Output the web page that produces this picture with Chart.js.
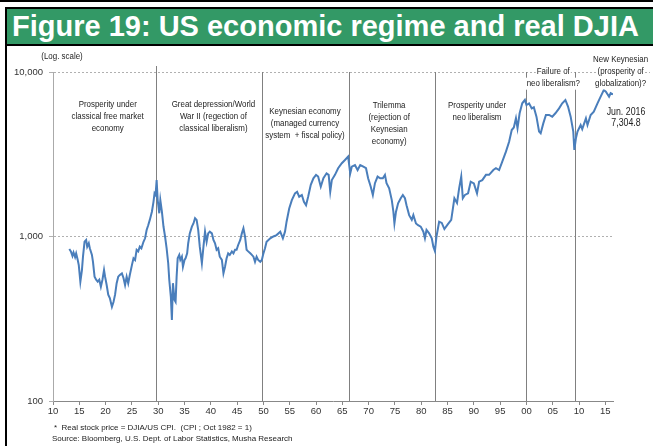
<!DOCTYPE html>
<html>
<head>
<meta charset="utf-8">
<script src="https://cdn.jsdelivr.net/npm/chart.js@4.4.1/dist/chart.umd.min.js"></script>
<style>
  html, body { margin: 0; padding: 0; background: #fff; }
  #page { position: relative; width: 653px; height: 446px; overflow: hidden; }
  #topRule { position: absolute; left: 0; top: 0; width: 653px; height: 2px; background: #000; }
  #frame { position: absolute; left: 5px; top: 7px; width: 646px; height: 439px; border-left: 2px solid #000; }
  #title {
    position: absolute; left: 5px; top: 7px; width: 642px; height: 35px;
    background: #339966; border: 2px solid #000; color: #fff;
    font: bold 29px "Liberation Sans", Arial, sans-serif; line-height: 35px;
    padding-left: 5px; white-space: nowrap;
  }
  #chart { position: absolute; left: 0; top: 0; }
</style>
</head>
<body>
<div id="page">
  <div id="topRule"></div>
  <div id="frame"></div>
  <div id="title">Figure 19: US economic regime and real DJIA</div>
  <canvas id="chart" width="653" height="446"></canvas>
</div>
<script>
// Real DJIA (DJIA / US CPI, Oct 1982 = 1), log scale
const years = [
  1913.1, 1913.4, 1913.7, 1913.9, 1914.2, 1914.4, 1914.7, 1914.9, 1915.2, 1915.5, 1915.7, 1916.0, 1916.3, 1916.5, 1916.8,
  1917.0, 1917.4, 1917.6, 1917.9, 1918.2, 1918.5, 1918.8, 1919.1, 1919.4, 1919.7, 1919.9, 1920.2, 1920.5, 1920.8, 1921.2,
  1921.5, 1921.8, 1922.1, 1922.4, 1922.7, 1923.1, 1923.4, 1923.7, 1924.0, 1924.3, 1924.6, 1925.0, 1925.3, 1925.6, 1925.9,
  1926.2, 1926.5, 1926.8, 1927.2, 1927.5, 1927.8, 1928.1, 1928.4, 1928.8, 1929.1, 1929.3, 1929.5, 1929.7, 1929.9, 1930.2,
  1930.4, 1930.7, 1931.0, 1931.3, 1931.6, 1931.9, 1932.1, 1932.4, 1932.6, 1932.8, 1933.1, 1933.3, 1933.5, 1933.7, 1934.0,
  1934.2, 1934.5, 1934.7, 1935.0, 1935.2, 1935.5, 1935.7, 1936.0, 1936.4, 1936.7, 1937.0, 1937.3, 1937.6, 1937.9, 1938.3,
  1938.6, 1938.9, 1939.2, 1939.5, 1939.8, 1940.2, 1940.5, 1940.8, 1941.1, 1941.4, 1941.7, 1942.1, 1942.4, 1942.7, 1943.0,
  1943.3, 1943.6, 1944.0, 1944.3, 1944.6, 1944.9, 1945.2, 1945.6, 1945.9, 1946.2, 1946.5, 1946.8, 1947.1, 1947.5, 1947.8,
  1948.1, 1948.4, 1948.7, 1949.0, 1949.4, 1949.7, 1950.0, 1950.3, 1950.6, 1951.3, 1951.9, 1952.5, 1953.2, 1953.7, 1954.1,
  1954.4, 1954.9, 1955.4, 1956.0, 1956.4, 1956.8, 1957.3, 1957.7, 1958.1, 1958.5, 1959.0, 1959.5, 1960.0, 1960.4, 1960.9,
  1961.4, 1962.0, 1962.4, 1962.7, 1963.0, 1963.6, 1964.2, 1964.9, 1965.5, 1966.1, 1966.5, 1966.8, 1967.4, 1967.9, 1968.4,
  1969.0, 1969.5, 1969.9, 1970.4, 1970.8, 1971.2, 1971.7, 1972.2, 1972.7, 1973.1, 1973.4, 1973.9, 1974.4, 1974.7, 1974.9,
  1975.2, 1975.6, 1976.1, 1976.5, 1976.9, 1977.2, 1977.7, 1978.2, 1978.5, 1979.0, 1979.4, 1979.9, 1980.4, 1980.7, 1981.0,
  1981.5, 1982.0, 1982.3, 1982.6, 1982.9, 1983.4, 1983.9, 1984.4, 1985.0, 1985.7, 1986.3, 1986.8, 1987.2, 1987.6, 1987.9,
  1988.3, 1988.9, 1989.4, 1990.0, 1990.6, 1991.0, 1991.6, 1992.3, 1992.9, 1993.7, 1994.2, 1994.8, 1995.4, 1996.1, 1996.7,
  1997.2, 1997.6, 1998.0, 1998.3, 1998.7, 1999.2, 1999.7, 2000.0, 2000.5, 2001.0, 2001.4, 2001.9, 2002.4, 2002.7, 2003.2,
  2003.7, 2004.3, 2004.9, 2005.5, 2006.2, 2006.8, 2007.4, 2007.9, 2008.4, 2008.9, 2009.1, 2009.4, 2009.7, 2010.3, 2010.6,
  2011.3, 2011.6, 2012.2, 2012.8, 2013.5, 2014.1, 2014.7, 2015.1, 2015.7, 2016.0, 2016.45
];
const realDjia = [
  839, 812, 762, 800, 750, 790, 720, 670, 531, 625, 754, 929, 953, 867, 910,
  848, 773, 702, 570, 546, 531, 546, 495, 546, 625, 570, 507, 443, 422, 374,
  400, 443, 520, 570, 583, 597, 560, 507, 570, 520, 583, 670, 737, 720, 830,
  812, 867, 848, 929, 975, 1096, 1171, 1262, 1415, 1624, 1830, 1790, 2205, 1665, 1384,
  1665, 1415, 1150, 1000, 848, 688, 546, 430, 311, 520, 411, 400, 570, 737, 773,
  720, 754, 655, 720, 737, 790, 910, 1045, 1148, 1200, 1291, 1262, 1096, 867, 688,
  867, 1070, 929, 1045, 1070, 1045, 953, 910, 830, 848, 754, 720, 597, 655, 737,
  790, 773, 812, 790, 830, 830, 888, 953, 1045, 1122, 1000, 830, 812, 790, 773,
  754, 702, 754, 720, 702, 720, 790, 848, 929, 975, 1000, 1020, 1070, 975, 1070,
  1230, 1480, 1665, 1830, 1871, 1746, 1786, 1624, 1550, 1746, 2060, 2259, 2370, 2313, 2008,
  2259, 2421, 2370, 1871, 2205, 2370, 2600, 2790, 2920, 3062, 2421, 2657, 2720, 2536, 2720,
  2657, 2600, 2259, 2008, 1786, 2110, 2313, 2259, 2259, 2370, 2110, 1963, 1665, 1415, 1200,
  1415, 1590, 1708, 1786, 1708, 1550, 1349, 1262, 1349, 1200, 1171, 1148, 1070, 975, 1096,
  1045, 975, 867, 816, 1000, 1230, 1210, 1110, 1180, 1262, 1708, 1600, 1963, 2313, 1708,
  1790, 1830, 2153, 2100, 1830, 2153, 2200, 2370, 2370, 2536, 2600, 2536, 2850, 3280, 3770,
  4440, 4600, 5230, 4550, 5610, 6450, 6760, 6300, 6450, 6010, 6100, 5350, 4340, 4240, 4870,
  5480, 5480, 5350, 5610, 6010, 6450, 6760, 6160, 5350, 4340, 3360, 3950, 4340, 4760, 4500,
  5230, 4760, 5480, 5740, 6450, 7080, 7770, 7590, 7080, 7430, 7304.8
];

// axis ticks
const xTickYears = [1910, 1915, 1920, 1925, 1930, 1935, 1940, 1945, 1950, 1955, 1960, 1965, 1970,
  1975, 1980, 1985, 1990, 1995, 2000, 2005, 2010, 2015];
const xTickLabels = ['10', '15', '20', '25', '30', '35', '40', '45', '50', '55', '60', '65', '70',
  '75', '80', '85', '90', '95', '00', '05', '10', '15'];
const yTickValues = [100, 1000, 10000];
const yTickLabels = ['100', '1,000', '10,000'];

// regime changes (vertical separators)
const regimeBreaks = [1929.6, 1949.7, 1966.2, 1982.6, 2000.0, 2009.3];

// regime captions: centre year, first line y (px), text lines
const regimeNotes = [
  { year: 1920.4, top: 105, lines: ['Prosperity under', 'classical free market', 'economy'] },
  { year: 1940.5, top: 105, lines: ['Great depression/World', 'War II (regection of', 'classical liberalism)'] },
  { year: 1957.9, top: 112, lines: ['Keynesian economy', '(managed currency', 'system  + fiscal policy)'] },
  { year: 1973.9, top: 106, lines: ['Trilemma', '(rejection of', 'Keynesian', 'economy)'] },
  { year: 1990.6, top: 106, lines: ['Prosperity under', 'neo liberalism'] },
  { year: 2005.1, top: 72, lines: ['Failure of', 'neo liberalism?'] },
  { year: 2017.9, top: 60, lines: ['New Keynesian', '(prosperity of', 'globalization)?'] }
];
const lastLabel = ['Jun. 2016', '7,304.8'];
const footnotes = [
  '*  Real stock price = DJIA/US CPI.  (CPI ; Oct 1982 = 1)',
  'Source: Bloomberg, U.S. Dept. of Labor Statistics, Musha Research'
];

const FAMILY = '"Liberation Sans", Arial, sans-serif';
const TICK_FONT = { family: FAMILY, size: 9.5 };
const SQUEEZE = 0.88; // captions are set slightly condensed

// centred, condensed text with a white backing so separators stop behind it
function noteText(ctx, text, cx, y) {
  const w = ctx.measureText(text).width * SQUEEZE;
  ctx.fillStyle = '#fff';
  ctx.fillRect(cx - w / 2 - 1, y - 6, w + 2, 12);
  ctx.save();
  ctx.translate(cx, y);
  ctx.scale(SQUEEZE, 1);
  ctx.fillStyle = '#222';
  ctx.fillText(text, 0, 0);
  ctx.restore();
}

const regimePlugin = {
  id: 'regimes',
  beforeDatasetsDraw(chart) {
    const { ctx, chartArea, scales } = chart;
    ctx.save();
    ctx.strokeStyle = '#808080';
    ctx.lineWidth = 1;
    regimeBreaks.forEach((yr, i) => {
      const x = Math.round(scales.x.getPixelForValue(yr)) + 0.5;
      ctx.beginPath();
      ctx.moveTo(x, i === 0 ? chartArea.top - 6 : chartArea.top);
      ctx.lineTo(x, chartArea.bottom);
      ctx.stroke();
    });
    // top rule runs on past the plot
    ctx.strokeStyle = '#b0b0b0';
    ctx.setLineDash([2, 2]);
    ctx.beginPath();
    ctx.moveTo(chartArea.right, chartArea.top + 0.5);
    ctx.lineTo(650, chartArea.top + 0.5);
    ctx.stroke();
    ctx.restore();
  },
  afterDatasetsDraw(chart) {
    const { ctx, scales } = chart;
    ctx.save();
    ctx.textAlign = 'center';
    ctx.textBaseline = 'middle';
    ctx.font = '9px ' + FAMILY;
    regimeNotes.forEach(n => {
      const cx = scales.x.getPixelForValue(n.year);
      n.lines.forEach((t, i) => noteText(ctx, t, cx, n.top + i * 11.7));
    });

    ctx.font = '10px ' + FAMILY;
    lastLabel.forEach((t, i) => noteText(ctx, t, 626, 112 + i * 11.7));

    ctx.font = '9px ' + FAMILY;
    noteText(ctx, '(Log. scale)', 62, 57);

    ctx.font = '8px ' + FAMILY;
    ctx.textAlign = 'left';
    ctx.fillStyle = '#222';
    ctx.fillText(footnotes[0], 54, 428);
    ctx.fillText(footnotes[1], 52, 439);
    ctx.restore();
  }
};

new Chart(document.getElementById('chart'), {
  type: 'line',
  data: {
    datasets: [{
      data: years.map((yr, i) => ({ x: yr, y: realDjia[i] })),
      borderColor: '#4a7ebb',
      borderWidth: 2,
      pointRadius: 0,
      tension: 0,
      fill: false
    }]
  },
  options: {
    responsive: false,
    animation: false,
    layout: { padding: { left: 0, top: 72, right: 40, bottom: 23 } },
    plugins: { legend: { display: false }, tooltip: { enabled: false } },
    scales: {
      x: {
        type: 'linear',
        min: 1910,
        max: 2016.45,
        afterBuildTicks: s => { s.ticks = xTickYears.map(v => ({ value: v })); },
        afterFit: s => { s.height = 22; },
        grid: { drawOnChartArea: false, drawTicks: true, tickLength: 4, color: '#888' },
        border: { display: true, color: '#888' },
        ticks: {
          autoSkip: false, maxRotation: 0, padding: 1, color: '#333', font: TICK_FONT,
          callback: v => xTickLabels[xTickYears.indexOf(v)]
        }
      },
      y: {
        type: 'logarithmic',
        min: 100,
        max: 10000,
        afterBuildTicks: s => { s.ticks = yTickValues.map(v => ({ value: v })); },
        afterFit: s => { s.width = 53; },
        grid: { color: '#b0b0b0', tickLength: 4 },
        border: { display: true, color: '#aaa', dash: [2, 2] },
        ticks: {
          padding: 6, color: '#333', font: TICK_FONT,
          callback: v => yTickLabels[yTickValues.indexOf(v)]
        }
      }
    }
  },
  plugins: [regimePlugin]
});
</script>
</body>
</html>
